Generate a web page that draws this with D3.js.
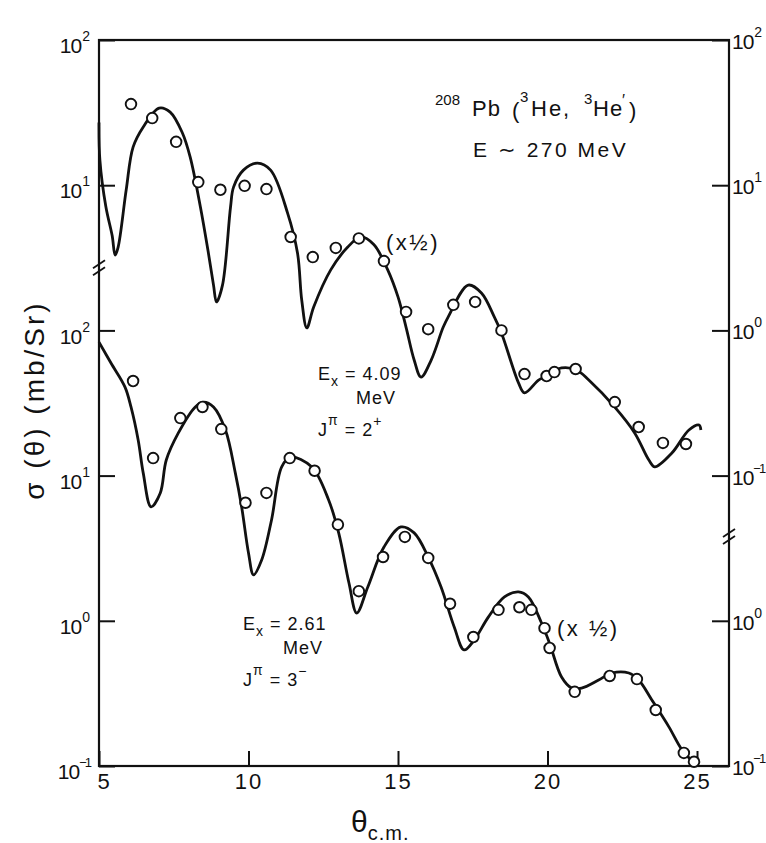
<!DOCTYPE html>
<html>
<head>
<meta charset="utf-8">
<script src="https://cdn.jsdelivr.net/npm/d3@7.9.0/dist/d3.min.js"></script>
<style>
  body { margin: 0; background: #fff; }
  svg { display: block; font-family: "Liberation Sans", Arial, sans-serif; }
</style>
</head>
<body>
<div id="chart"></div>
<script>
// values: [theta c.m. (deg), sigma (mb/sr)]
// upper set: Ex = 4.09 MeV, 2+  (right-hand scale)
const upperPoints = [
  [6.07, 36.2], [6.78, 29.0], [7.58, 19.9], [8.32, 10.5], [9.06, 9.3], [9.87, 9.9],
  [10.60, 9.4], [11.41, 4.4], [12.15, 3.2], [12.92, 3.7], [13.69, 4.3], [14.53, 3.0],
  [15.27, 1.34], [16.01, 1.02], [16.85, 1.50], [17.58, 1.57], [18.46, 1.0], [19.23, 0.50],
  [19.97, 0.485], [20.23, 0.516], [20.94, 0.542], [22.25, 0.321], [23.05, 0.216],
  [23.86, 0.168], [24.63, 0.165]
];
const upperCurve = [
  [5.0, 27], [5.03, 14.9], [5.23, 7.1], [5.44, 4.5], [5.54, 3.3], [5.64, 3.75], [5.91, 9.3],
  [6.14, 18.3], [6.48, 25.2], [7.01, 34], [7.38, 31.9], [7.79, 22.9], [8.05, 15.6], [8.39, 7.1],
  [8.66, 3.4], [8.83, 2.05], [8.93, 1.57], [9.13, 2.05], [9.40, 7.1], [9.50, 9.7], [9.83, 12.7],
  [10.30, 14.2], [10.74, 12.7], [11.31, 6.4], [11.64, 3.4], [11.78, 1.62], [11.95, 1.04],
  [12.18, 1.45], [12.75, 2.61], [13.32, 3.75], [13.76, 4.4], [14.19, 3.9], [14.66, 2.6],
  [15.0, 1.7], [15.27, 1.05], [15.54, 0.625], [15.77, 0.477], [16.11, 0.625], [16.51, 1.05],
  [16.68, 1.24], [17.35, 2.05], [17.79, 1.81], [18.22, 1.24], [18.46, 0.96], [19.03, 0.435],
  [19.23, 0.371], [19.70, 0.455], [19.90, 0.477], [20.47, 0.551], [20.97, 0.533], [21.38, 0.455],
  [22.25, 0.296], [22.92, 0.196], [23.39, 0.128], [23.59, 0.115], [24.16, 0.143], [24.73, 0.206],
  [25.07, 0.223], [25.13, 0.206]
];

// lower set: Ex = 2.61 MeV, 3-  (left-hand scale)
const lowerPoints = [
  [6.14, 44.8], [6.81, 13.2], [7.72, 24.9], [8.46, 29.7], [9.09, 20.9], [9.90, 6.5],
  [10.60, 7.6], [11.38, 13.2], [12.21, 10.8], [12.99, 4.6], [13.69, 1.60], [14.50, 2.75],
  [15.23, 3.78], [16.01, 2.71], [16.74, 1.31], [17.52, 0.773], [18.36, 1.19], [19.06, 1.24],
  [19.46, 1.19], [19.90, 0.89], [20.07, 0.65], [20.91, 0.324], [22.08, 0.417], [22.99, 0.397],
  [23.62, 0.243], [24.56, 0.123], [24.90, 0.107]
];
const lowerCurve = [
  [5.0, 83], [5.40, 59.6], [5.87, 40.7], [6.07, 29.7], [6.31, 17.6], [6.48, 10.4], [6.74, 6.1],
  [7.05, 7.6], [7.25, 12.8], [7.65, 19.6], [8.22, 29.7], [8.49, 32.1], [8.83, 29.7], [9.23, 20.6],
  [9.56, 10.4], [9.77, 6.1], [10.0, 2.93], [10.17, 2.07], [10.44, 2.62], [10.77, 4.95],
  [11.11, 11.5], [11.41, 13.4], [12.11, 11.5], [12.68, 6.8], [13.02, 4.0], [13.36, 1.82],
  [13.62, 1.13], [13.99, 1.71], [14.53, 3.22], [15.10, 4.43], [15.54, 4.03], [16.01, 2.75],
  [16.44, 1.71], [16.88, 0.906], [17.21, 0.63], [17.55, 0.738], [18.02, 1.06], [18.56, 1.46],
  [19.03, 1.58], [19.36, 1.46], [19.80, 0.966], [20.07, 0.70], [20.47, 0.41], [20.81, 0.344],
  [21.14, 0.344], [21.71, 0.391], [22.15, 0.437], [22.72, 0.437], [23.05, 0.391], [23.49, 0.285],
  [24.06, 0.186], [24.50, 0.129], [24.90, 0.105]
];

const xTicks = [5, 10, 15, 20, 25];
const leftUpperTicks = [1e2, 1e1];
const leftLowerTicks = [1e2, 1e1, 1e0, 1e-1];
const rightUpperTicks = [1e2, 1e1, 1e0, 1e-1];
const rightLowerTicks = [1e0, 1e-1];

const width = 766;
const height = 843;
const margin = { top: 40, right: 37, bottom: 77, left: 99 };
const ink = '#111';

const svg = d3.select('#chart')
  .append('svg')
  .attr('width', width)
  .attr('height', height)
  .attr('viewBox', `0 0 ${width} ${height}`);

const x = d3.scaleLinear().domain([5, 26.07]).range([margin.left, width - margin.right]);
// two stacked log scales with the same decade height
const yUpper = d3.scaleLog().domain([1e-3, 1e2]).range([height - margin.bottom, margin.top]);
const yLower = d3.scaleLog().domain([1e-1, 1e4]).range([height - margin.bottom, margin.top]);

// "10" with a raised exponent
function powerLabels(g, supSize, raise) {
  g.selectAll('.tick text').each(function (d) {
    const e = Math.round(Math.log10(d));
    const t = d3.select(this).text(null);
    t.append('tspan').attr('letter-spacing', -1).text('10');
    t.append('tspan')
      .attr('font-size', e < 0 ? supSize - 1 : supSize)
      .attr('letter-spacing', e < 0 ? -2 : 0)
      .attr('dx', e < 0 ? 0 : 1)
      .attr('dy', -raise)
      .text(e < 0 ? '\u2212' + -e : String(e));
  });
}

function styleAxis(g) {
  g.attr('font-family', null).attr('font-size', 21).attr('fill', ink);
  g.select('.domain').remove();
  g.selectAll('.tick line').attr('stroke', ink).attr('stroke-width', 2);
  g.selectAll('.tick text').attr('fill', ink);
}

// frame
svg.append('rect')
  .attr('x', margin.left)
  .attr('y', margin.top)
  .attr('width', width - margin.left - margin.right)
  .attr('height', height - margin.top - margin.bottom)
  .attr('fill', 'none')
  .attr('stroke', ink)
  .attr('stroke-width', 2.2);

// left axes
[[yUpper, leftUpperTicks], [yLower, leftLowerTicks]].forEach(([scale, ticks]) => {
  const g = svg.append('g')
    .attr('transform', `translate(${margin.left},0)`)
    .call(d3.axisLeft(scale).tickValues(ticks).tickSizeInner(-16).tickSizeOuter(0).tickPadding(9));
  styleAxis(g);
  g.selectAll('.tick text').attr('dy', '0.6em');
  powerLabels(g, 14, 12);
});

// right axes
[[yUpper, rightUpperTicks], [yLower, rightLowerTicks]].forEach(([scale, ticks]) => {
  const g = svg.append('g')
    .attr('transform', `translate(${width - margin.right},0)`)
    .call(d3.axisRight(scale).tickValues(ticks).tickSizeInner(-17).tickSizeOuter(0).tickPadding(3));
  styleAxis(g);
  g.selectAll('.tick text').attr('dy', '0.4em');
  powerLabels(g, 14, 12);
});

// bottom axis
const xg = svg.append('g')
  .attr('transform', `translate(0,${height - margin.bottom})`)
  .call(d3.axisBottom(x).tickValues(xTicks).tickSizeInner(-15).tickSizeOuter(0).tickPadding(7));
styleAxis(xg);
xg.attr('font-size', 22);
xg.selectAll('.tick text').attr('letter-spacing', 2);
// the "5" sits just right of the corner label
xg.selectAll('.tick text').filter((d) => d === 5).attr('dx', 5);

// axis breaks
function breakMark(px, py) {
  [-3.5, 3.5].forEach((o) => {
    svg.append('line')
      .attr('x1', px - 6).attr('y1', py + o + 4)
      .attr('x2', px + 6).attr('y2', py + o - 4)
      .attr('stroke', ink).attr('stroke-width', 1.8);
  });
}
breakMark(margin.left, yUpper(2.7));
breakMark(width - margin.right, yLower(3.8));

// curves
const line = (scale) => d3.line()
  .x((d) => x(d[0]))
  .y((d) => scale(d[1]))
  .curve(d3.curveCatmullRom.alpha(0.5));

svg.append('path')
  .datum(upperCurve)
  .attr('d', line(yUpper))
  .attr('fill', 'none')
  .attr('stroke', ink)
  .attr('stroke-width', 2.8)
  .attr('stroke-linejoin', 'round');

svg.append('path')
  .datum(lowerCurve)
  .attr('d', line(yLower))
  .attr('fill', 'none')
  .attr('stroke', ink)
  .attr('stroke-width', 2.8)
  .attr('stroke-linejoin', 'round');

// data points
function dots(data, scale) {
  svg.append('g')
    .selectAll('circle')
    .data(data)
    .join('circle')
    .attr('cx', (d) => x(d[0]))
    .attr('cy', (d) => scale(d[1]))
    .attr('r', 5.3)
    .attr('fill', '#fff')
    .attr('stroke', ink)
    .attr('stroke-width', 1.9);
}
dots(upperPoints, yUpper);
dots(lowerPoints, yLower);

// labels
const title = svg.append('text').attr('fill', ink).attr('font-size', 22);
title.append('tspan').attr('x', 435).attr('y', 105).attr('font-size', 15).text('208');
title.append('tspan').attr('x', 472).attr('y', 116).attr('letter-spacing', 1).text('Pb');
title.append('tspan').attr('x', 512).attr('y', 118).text('(');
title.append('tspan').attr('x', 520).attr('y', 102).attr('font-size', 15).text('3');
title.append('tspan').attr('x', 531).attr('y', 116).attr('letter-spacing', 2).text('He,');
title.append('tspan').attr('x', 584).attr('y', 104).attr('font-size', 15).text('3');
title.append('tspan').attr('x', 593).attr('y', 116).attr('letter-spacing', 1).text('He');
title.append('tspan').attr('x', 622).attr('y', 106).attr('font-size', 16).text('\u2032');
title.append('tspan').attr('x', 629).attr('y', 118).text(')');

svg.append('text')
  .attr('x', 473).attr('y', 157)
  .attr('font-size', 21).attr('letter-spacing', 2.5).attr('fill', ink)
  .text('E \u223C 270 MeV');

svg.append('text')
  .attr('x', 386).attr('y', 250)
  .attr('font-size', 22).attr('letter-spacing', 2.5).attr('fill', ink)
  .text('(x\u00BD)');

svg.append('text')
  .attr('x', 557).attr('y', 636)
  .attr('font-size', 22).attr('letter-spacing', 2.5).attr('fill', ink)
  .text('(x \u00BD)');

function levelLabel(x0, y0, energy, spin, parity, mevX) {
  const t = svg.append('text').attr('fill', ink).attr('font-size', 18).attr('letter-spacing', 1);
  t.append('tspan').attr('x', x0).attr('y', y0).text('E');
  t.append('tspan').attr('font-size', 14).attr('dy', 6).text('x');
  t.append('tspan').attr('dy', -6).text(' = ' + energy);
  svg.append('text').attr('fill', ink).attr('font-size', 18).attr('letter-spacing', 1)
    .attr('x', mevX).attr('y', y0 + 24).text('MeV');
  const j = svg.append('text').attr('fill', ink).attr('font-size', 18).attr('letter-spacing', 1);
  j.append('tspan').attr('x', x0).attr('y', y0 + 56).text('J');
  j.append('tspan').attr('font-size', 14).attr('dy', -11).text('\u03C0');
  j.append('tspan').attr('dy', 11).text(' = ' + spin);
  j.append('tspan').attr('font-size', 14).attr('dy', -10).text(parity);
}
levelLabel(318, 380, '4.09', '2', '+', 356);
levelLabel(243, 630, '2.61', '3', '\u2212', 283);

// axis titles
svg.append('text')
  .attr('transform', 'translate(44,400) rotate(-90)')
  .attr('text-anchor', 'middle')
  .attr('font-size', 28)
  .attr('letter-spacing', 3)
  .attr('fill', ink)
  .text('\u03C3 (\u03B8) (mb/Sr)');

const xt = svg.append('text').attr('fill', ink).attr('x', 351).attr('y', 832);
xt.append('tspan').attr('font-size', 30).text('\u03B8');
xt.append('tspan').attr('font-size', 20).attr('dy', 8).attr('letter-spacing', 1).text('c.m.');
</script>
</body>
</html>
